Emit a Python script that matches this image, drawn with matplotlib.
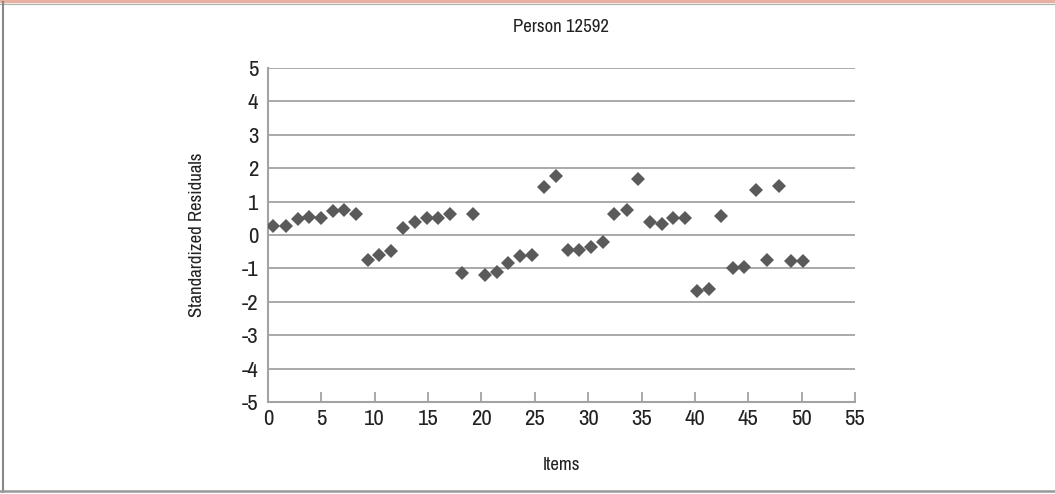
import matplotlib
matplotlib.use("Agg")
import matplotlib.pyplot as plt
from matplotlib.font_manager import fontManager
from matplotlib.lines import Line2D

# Item positions along the horizontal axis and their standardized residuals
items = [0.50, 1.69, 2.78, 3.87, 4.97, 6.06, 7.15, 8.24, 9.34, 10.43,
         11.52, 12.68, 13.77, 14.87, 15.96, 17.05, 18.15, 19.24, 20.33, 21.43,
         22.51, 23.61, 24.76, 25.82, 26.98, 28.08, 29.17, 30.26, 31.42, 32.42,
         33.61, 34.69, 35.79, 36.94, 37.97, 39.07, 40.17, 41.32, 42.41, 43.54,
         44.63, 45.72, 46.78, 47.91, 49.00, 50.10]
residuals = [0.28, 0.26, 0.48, 0.54, 0.52, 0.72, 0.75, 0.64, -0.74, -0.59,
             -0.49, 0.20, 0.39, 0.51, 0.51, 0.64, -1.14, 0.62, -1.19, -1.12,
             -0.84, -0.62, -0.61, 1.44, 1.76, -0.44, -0.44, -0.36, -0.22, 0.63,
             0.74, 1.68, 0.40, 0.34, 0.50, 0.50, -1.67, -1.61, 0.58, -1.00,
             -0.97, 1.34, -0.74, 1.46, -0.79, -0.79]

x_ticks = [0, 5, 10, 15, 20, 25, 30, 35, 40, 45, 50, 55]
y_ticks = [-5, -4, -3, -2, -1, 0, 1, 2, 3, 4, 5]

title = "Person 12592"
x_label = "Items"
y_label = "Standardized Residuals"

# Prefer a narrow sans face when one is available
family = ["Liberation Sans"]
stretch = "normal"
for f in fontManager.ttflist:
    if "Narrow" in f.name or "Condensed" in f.name:
        family = [f.name]
        break
else:
    for f in fontManager.ttflist:
        if f.name in ("DejaVu Sans", "Liberation Sans") and str(f.stretch) in ("condensed", "semi-condensed", "75", "87.5"):
            family = [f.name]
            stretch = "condensed"
            break
plt.rcParams["font.family"] = family + ["DejaVu Sans"]
plt.rcParams["font.stretch"] = stretch

fig = plt.figure(figsize=(10.55, 4.94), dpi=100)
ax = fig.add_axes([0.2540, 0.1862, 0.5564, 0.6761])

grid_color = "#a3a3a3"
for y in y_ticks[1:]:
    ax.axhline(y, color=grid_color, linewidth=1.3, zorder=1)

ax.plot(items, residuals, linestyle="none", marker="D", markersize=7.6,
        color="#5a5a5a", markeredgewidth=0, zorder=3)

ax.set_xlim(0, 55)
ax.set_ylim(-5, 5)
ax.set_xticks(x_ticks)
ax.set_yticks(y_ticks)
ax.set_xticklabels([str(t) for t in x_ticks], fontsize=16.5)
ax.set_yticklabels([str(t) for t in y_ticks], fontsize=16.5)

for side in ("top", "right"):
    ax.spines[side].set_visible(False)
for side in ("left", "bottom"):
    ax.spines[side].set_color(grid_color)
    ax.spines[side].set_linewidth(1.5)

ax.tick_params(axis="x", direction="in", length=7, width=1.3, color=grid_color,
               pad=5, labelcolor="#222222")
ax.tick_params(axis="y", length=0, pad=7, labelcolor="#222222")

fig.text(0.5322, 0.945, title, ha="center", va="center", fontsize=13.5, color="#222222")
fig.text(0.5322, 0.058, x_label, ha="center", va="center", fontsize=13.5, color="#222222")
fig.text(0.187, 0.525, y_label, ha="center", va="center", rotation=90,
         fontsize=13.5, color="#222222")

# Frame around the chart
fig.add_artist(Line2D([0, 1], [0.997, 0.997], transform=fig.transFigure,
                      color="#e8b0a0", linewidth=2.5))
fig.add_artist(Line2D([0, 1], [0.992, 0.992], transform=fig.transFigure,
                      color="#b0b0b0", linewidth=0.8))
fig.add_artist(Line2D([0.0025, 0.0025], [0.005, 0.995], transform=fig.transFigure,
                      color="#888888", linewidth=1.5))
fig.add_artist(Line2D([0, 1], [0.006, 0.006], transform=fig.transFigure,
                      color="#999999", linewidth=1.8))

fig.savefig("out.png", dpi=100)
